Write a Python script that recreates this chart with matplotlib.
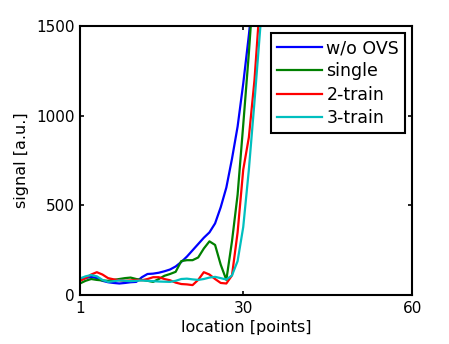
import numpy as np
import matplotlib
matplotlib.use("Agg")
import matplotlib.pyplot as plt

plt.rcParams['font.family'] = ['DejaVu Sans']

# signal vs location (points 1..34, beyond that everything is off the scale)
location = list(range(1, 35))
wo_ovs = [83, 95, 102, 95, 80, 72, 68, 65, 68, 72, 74, 100, 118, 120, 125, 133, 143,
          160, 185, 215, 250, 285, 320, 350, 400, 490, 600, 760, 940, 1180, 1450, 1750,
          2100, 2500]
single = [65, 80, 90, 85, 82, 80, 85, 90, 95, 98, 90, 85, 80, 74, 90, 108, 118,
          130, 190, 195, 195, 210, 260, 300, 280, 170, 85, 300, 560, 950, 1350, 1800,
          2300, 2800]
train2 = [80, 95, 115, 128, 115, 95, 88, 83, 80, 82, 85, 83, 90, 100, 100, 90, 83,
          70, 62, 60, 56, 85, 128, 115, 90, 68, 65, 110, 350, 700, 880, 1200,
          1650, 2100]
train3 = [93, 105, 112, 105, 85, 74, 78, 82, 80, 78, 80, 82, 80, 78, 76, 75, 74,
          80, 90, 92, 88, 85, 90, 98, 102, 95, 87, 110, 190, 380, 700, 1080,
          1480, 1900]

series = [("w/o OVS", wo_ovs, (0, 0, 1)),
          ("single", single, (0, 0.5, 0)),
          ("2-train", train2, (1, 0, 0)),
          ("3-train", train3, (0, 0.75, 0.75))]

fig = plt.figure(figsize=(4.49, 3.44), dpi=100)
ax = fig.add_axes([0.178, 0.142, 0.74, 0.782])

for name, vals, col in series:
    ax.plot(location, vals, color=col, lw=1.6, label=name)

ax.set_xlim(1, 60)
ax.set_ylim(0, 1500)
ax.set_xticks([1, 30, 60])
ax.set_yticks([0, 500, 1000, 1500])
ax.tick_params(direction='in', top=True, right=True, labelsize=11, length=3, width=1.2, pad=4)
for s in ax.spines.values():
    s.set_linewidth(1.5)
ax.set_xlabel("location [points]", fontsize=11.5, labelpad=3)
ax.set_ylabel("signal [a.u.]", fontsize=11.5, labelpad=5)

leg = ax.legend(loc='upper right', fontsize=12.5, fancybox=False, edgecolor='black',
                framealpha=1, borderaxespad=0.4, handlelength=2.6, labelspacing=0.3,
                borderpad=0.35, handletextpad=0.25)
leg.get_frame().set_linewidth(1.5)

fig.savefig("out.png", dpi=100)
